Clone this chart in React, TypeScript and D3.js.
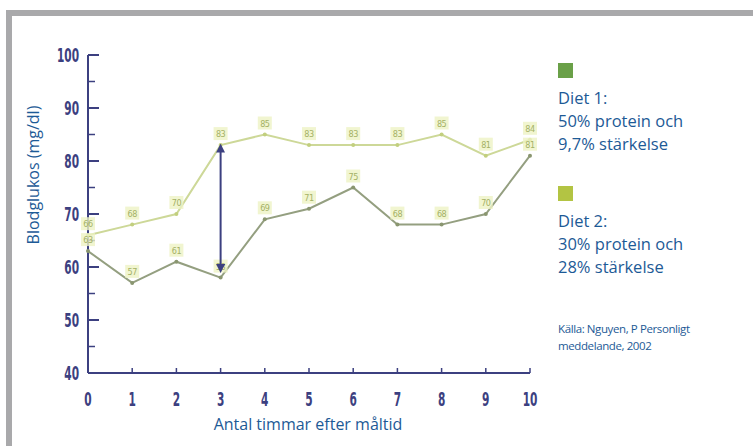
import React from 'react';
import * as d3 from 'd3';

const HOURS = [0, 1, 2, 3, 4, 5, 6, 7, 8, 9, 10];
const DIET1 = [63, 57, 61, 58, 69, 71, 75, 68, 68, 70, 81];
const DIET2 = [66, 68, 70, 83, 85, 83, 83, 83, 85, 81, 84];
const Y_TICKS = [40, 50, 60, 70, 80, 90, 100];
const Y_MINOR = [45, 55, 65, 75, 85, 95];
const ARROW_HOUR = 3;

const LEGEND = [
  { color: '#6aa048', lines: ['Diet 1:', '50% protein och', '9,7% stärkelse'] },
  { color: '#b3c443', lines: ['Diet 2:', '30% protein och', '28% stärkelse'] },
];
const SOURCE = ['Källa: Nguyen, P Personligt', 'meddelande, 2002'];

const W = 753;
const H = 446;
const BLUE = '#1d5a96';
const NAVY = '#3c4080';
const TICK_FONT = '"DejaVu Sans Condensed", "Liberation Sans Narrow", sans-serif';
const TEXT_FONT = '"Open Sans", "Noto Sans", sans-serif';

// narrow, tall tick digits like the printed original
function TickText({ x, y, anchor, children }: { x: number; y: number; anchor: string; children: React.ReactNode }) {
  return (
    <text transform={`translate(${x},${y}) scale(0.62,1)`} textAnchor={anchor} fill={NAVY}
      fontFamily={TICK_FONT} fontSize={19} fontWeight="bold">{children}</text>
  );
}

export default function App() {
  const x = d3.scaleLinear().domain([0, 10]).range([88, 530]);
  const y = d3.scaleLinear().domain([40, 100]).range([373, 55]);

  const line = d3.line<number>()
    .x((_, i) => x(HOURS[i]))
    .y(d => y(d));

  const series = [
    { values: DIET2, stroke: '#cdd898', dot: '#c2cf7e' },
    { values: DIET1, stroke: '#949f80', dot: '#8a9670' },
  ];

  const ai = HOURS.indexOf(ARROW_HOUR);
  const ax = x(ARROW_HOUR);
  const aTop = y(DIET2[ai]) + 3;
  const aBot = y(DIET1[ai]) - 9;

  return (
    <svg width={W} height={H} style={{ position: 'absolute', left: 0, top: 0, background: '#fff' }}>
      <defs>
        <marker id="ah" viewBox="0 0 10 10" refX="5" refY="5" markerWidth="4.5" markerHeight="4.5" orient="auto-start-reverse">
          <path d="M0,0 L10,5 L0,10 z" fill={NAVY} />
        </marker>
      </defs>

      {/* frame */}
      <rect x={6} y={10} width={W - 6} height={6} fill="#a9a9ab" />
      <rect x={6} y={10} width={6} height={H - 10} fill="#a9a9ab" />

      {/* y axis */}
      <line x1={x(0)} x2={x(0)} y1={y(100)} y2={y(40)} stroke={NAVY} strokeWidth={2} />
      {Y_TICKS.map(t => (
        <g key={t}>
          <line x1={x(0)} x2={x(0) + 11} y1={y(t)} y2={y(t)} stroke={NAVY} strokeWidth={2} />
          <TickText x={79} y={y(t) + 7} anchor="end">{t}</TickText>
        </g>
      ))}
      {Y_MINOR.map(t => (
        <line key={t} x1={x(0)} x2={x(0) + 7} y1={y(t)} y2={y(t)} stroke={NAVY} strokeWidth={1.5} />
      ))}

      {/* x axis */}
      <line x1={x(0)} x2={x(10)} y1={y(40)} y2={y(40)} stroke={NAVY} strokeWidth={2} />
      {HOURS.map(h => (
        <g key={h}>
          {h > 0 && <line x1={x(h)} x2={x(h)} y1={y(40)} y2={y(40) - 5} stroke={NAVY} strokeWidth={1.5} />}
          <TickText x={x(h)} y={406} anchor="middle">{h}</TickText>
        </g>
      ))}

      {/* axis titles */}
      <text transform="translate(39,175) rotate(-90)" textAnchor="middle" fill={BLUE}
        fontFamily={TEXT_FONT} fontSize={16}>Blodglukos (mg/dl)</text>
      <text x={308} y={430} textAnchor="middle" fill={BLUE} fontFamily={TEXT_FONT} fontSize={16}>
        Antal timmar efter måltid
      </text>

      {/* lines */}
      {series.map((s, si) => (
        <g key={si}>
          <path d={line(s.values) || ''} fill="none" stroke={s.stroke} strokeWidth={2} />
          {s.values.map((v, i) => (
            <g key={i}>
              <circle cx={x(HOURS[i])} cy={y(v)} r={2} fill={s.dot} />
              <rect x={x(HOURS[i]) - 7} y={y(v) - 18} width={14} height={13} fill="#eef3c4" opacity={0.8} />
              <text x={x(HOURS[i])} y={y(v) - 8} textAnchor="middle" fill="#a4b165"
                fontFamily={TICK_FONT} fontSize={9} letterSpacing={-0.5}>{v}</text>
            </g>
          ))}
        </g>
      ))}

      {/* difference arrow */}
      <line x1={ax} x2={ax} y1={aTop} y2={aBot} stroke={NAVY} strokeWidth={2}
        markerStart="url(#ah)" markerEnd="url(#ah)" />

      {/* legend */}
      {LEGEND.map((l, li) => (
        <g key={li} transform={`translate(558,${63 + li * 123})`}>
          <rect x={0} y={0} width={15} height={15} fill={l.color} />
          {l.lines.map((t, k) => (
            <text key={k} x={0} y={41 + k * 23} fill={BLUE} fontFamily={TEXT_FONT} fontSize={16.5}>{t}</text>
          ))}
        </g>
      ))}
      {SOURCE.map((t, k) => (
        <text key={k} x={558} y={333 + k * 17} fill={BLUE} fontFamily={TEXT_FONT} fontSize={11.5}
          letterSpacing={-0.4}>{t}</text>
      ))}
    </svg>
  );
}
